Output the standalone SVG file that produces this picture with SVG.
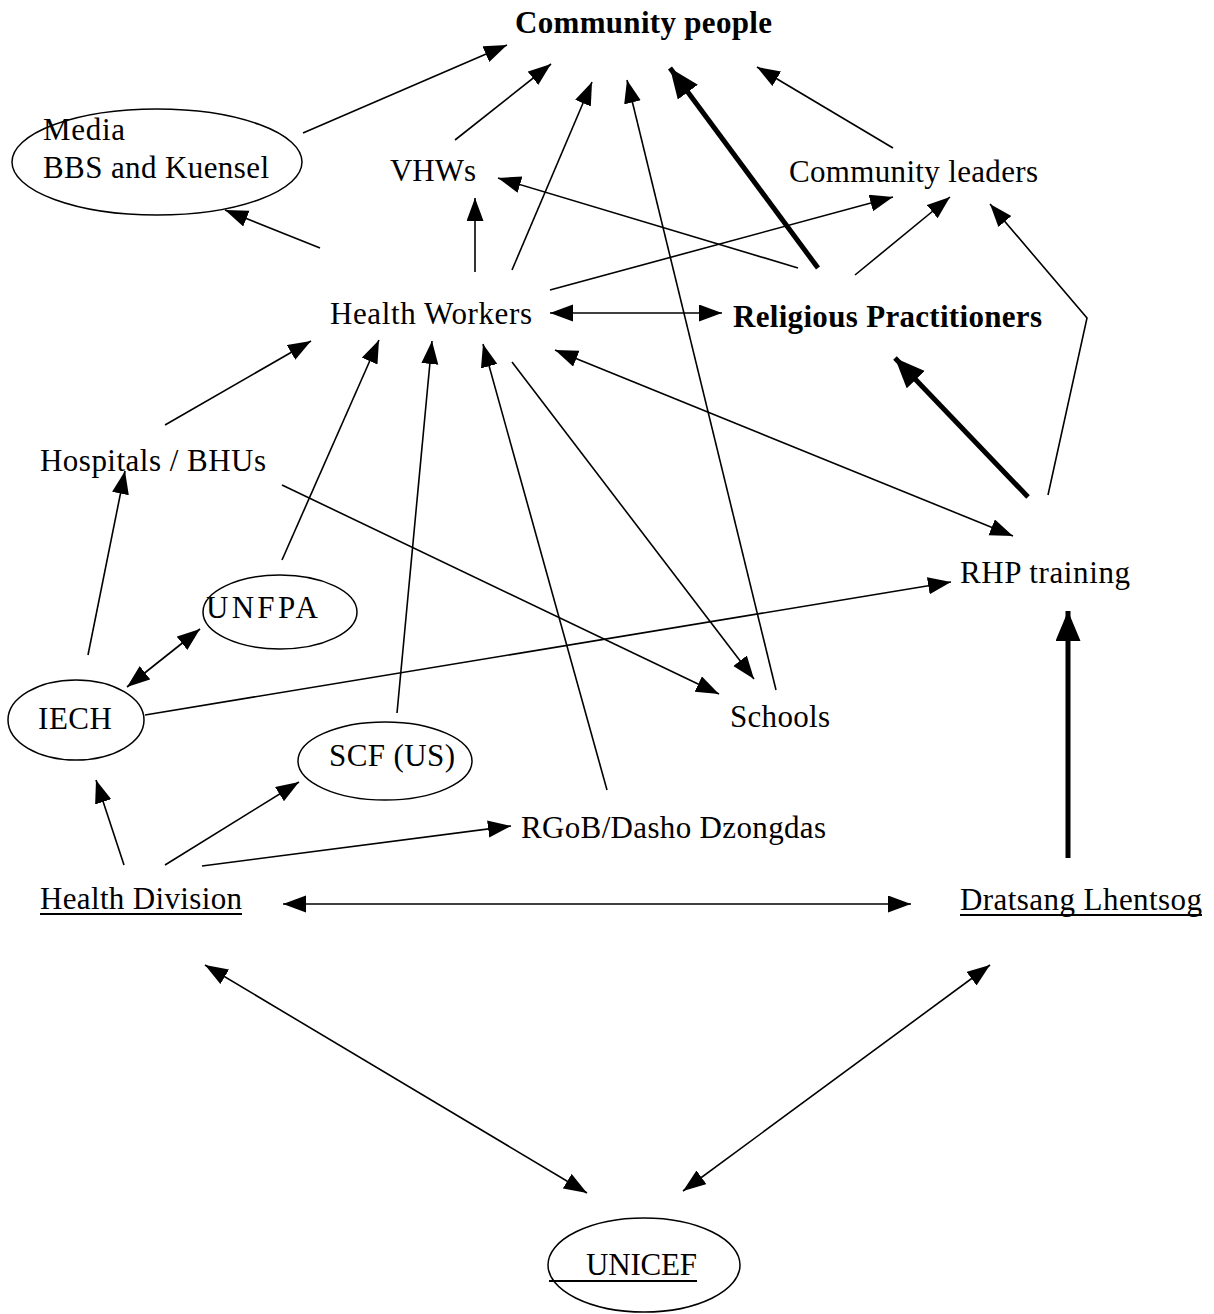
<svg xmlns="http://www.w3.org/2000/svg" width="1214" height="1314" viewBox="0 0 1214 1314">
<style>
text{font-family:"Liberation Serif","Times New Roman",serif;font-size:31px;fill:#000}
.b{font-weight:bold}
.sh{fill:none;stroke:#000;stroke-width:1.5}
.c line,.c polyline{fill:none;stroke:#000;stroke-width:1.6}
.c .t{stroke-width:5}
.ul{stroke:#000;stroke-width:2}
</style>
<defs>
<marker id="a" markerUnits="userSpaceOnUse" markerWidth="24" markerHeight="18" refX="23" refY="8.5" orient="auto-start-reverse"><path d="M0,0 L23,8.5 L0,17 z" fill="#000"/></marker>
<marker id="at" markerUnits="userSpaceOnUse" markerWidth="32" markerHeight="26" refX="30" refY="12.5" orient="auto"><path d="M0,0 L30,12.5 L0,25 z" fill="#000"/></marker>
</defs>
<rect width="1214" height="1314" fill="#fff"/>
<g class="c" id="connectors">
<line x1="303" y1="133" x2="507" y2="45" marker-end="url(#a)"/>
<line x1="455" y1="140" x2="551" y2="64" marker-end="url(#a)"/>
<line x1="512" y1="270" x2="592" y2="82" marker-end="url(#a)"/>
<line x1="776" y1="690" x2="627" y2="80" marker-end="url(#a)"/>
<line class="t" x1="818" y1="268" x2="670" y2="68" marker-end="url(#at)"/>
<line x1="893" y1="148" x2="757" y2="67" marker-end="url(#a)"/>
<line x1="475" y1="272" x2="475" y2="198" marker-end="url(#a)"/>
<line x1="320" y1="248" x2="225" y2="210" marker-end="url(#a)"/>
<line x1="798" y1="268" x2="498" y2="178" marker-end="url(#a)"/>
<line x1="550" y1="290" x2="893" y2="197" marker-end="url(#a)"/>
<line x1="855" y1="275" x2="950" y2="197" marker-end="url(#a)"/>
<polyline points="1048,495 1087,318 990,204" marker-end="url(#a)"/>
<line x1="550" y1="313" x2="722" y2="313" marker-start="url(#a)" marker-end="url(#a)"/>
<line x1="165" y1="425" x2="311" y2="341" marker-end="url(#a)"/>
<line x1="282" y1="560" x2="379" y2="340" marker-end="url(#a)"/>
<line x1="397" y1="713" x2="432" y2="341" marker-end="url(#a)"/>
<line x1="607" y1="790" x2="483" y2="344" marker-end="url(#a)"/>
<line x1="512" y1="362" x2="754" y2="679" marker-end="url(#a)"/>
<line x1="282" y1="485" x2="719" y2="694" marker-end="url(#a)"/>
<line x1="555" y1="350" x2="1013" y2="536" marker-start="url(#a)" marker-end="url(#a)"/>
<line class="t" x1="1028" y1="497" x2="895" y2="358" marker-end="url(#at)"/>
<line x1="88" y1="655" x2="125" y2="471" marker-end="url(#a)"/>
<line x1="127" y1="687" x2="200" y2="629" marker-start="url(#a)" marker-end="url(#a)"/>
<line x1="145" y1="715" x2="951" y2="582" marker-end="url(#a)"/>
<line x1="124" y1="865" x2="96" y2="780" marker-end="url(#a)"/>
<line x1="165" y1="865" x2="299" y2="782" marker-end="url(#a)"/>
<line x1="202" y1="866" x2="511" y2="826" marker-end="url(#a)"/>
<line x1="283" y1="904" x2="911" y2="904" marker-start="url(#a)" marker-end="url(#a)"/>
<line class="t" x1="1068" y1="858" x2="1068" y2="611" marker-end="url(#at)"/>
<line x1="205" y1="965" x2="587" y2="1193" marker-start="url(#a)" marker-end="url(#a)"/>
<line x1="990" y1="965" x2="683" y2="1191" marker-start="url(#a)" marker-end="url(#a)"/>
</g>
<g id="community-people"><text class="b" x="515" y="33" textLength="257">Community people</text></g>
<g id="media"><ellipse class="sh" cx="157" cy="162" rx="145" ry="53"/><text x="43" y="140" textLength="82">Media</text><text x="43" y="178" textLength="226">BBS and Kuensel</text></g>
<g id="vhws"><text x="390" y="181" textLength="86">VHWs</text></g>
<g id="community-leaders"><text x="789" y="182" textLength="249">Community leaders</text></g>
<g id="health-workers"><text x="330" y="324" textLength="202">Health Workers</text></g>
<g id="religious-practitioners"><text class="b" x="733" y="327" textLength="309">Religious Practitioners</text></g>
<g id="hospitals"><text x="40" y="471" textLength="226">Hospitals / BHUs</text></g>
<g id="unfpa"><ellipse class="sh" cx="280" cy="612" rx="77" ry="37"/><text x="206" y="618" textLength="112">UNFPA</text></g>
<g id="iech"><ellipse class="sh" cx="76" cy="720" rx="68" ry="40"/><text x="38" y="729" textLength="74">IECH</text></g>
<g id="scf"><ellipse class="sh" cx="385" cy="761" rx="87" ry="39"/><text x="329" y="766" textLength="126">SCF (US)</text></g>
<g id="schools"><text x="730" y="727" textLength="100">Schools</text></g>
<g id="rhp-training"><text x="960" y="583" textLength="170">RHP training</text></g>
<g id="rgob"><text x="521" y="838" textLength="305">RGoB/Dasho Dzongdas</text></g>
<g id="health-division"><text x="40" y="909" textLength="202">Health Division</text><line class="ul" x1="40" y1="914" x2="242" y2="914"/></g>
<g id="dratsang"><text x="960" y="910" textLength="242">Dratsang Lhentsog</text><line class="ul" x1="960" y1="915" x2="1202" y2="915"/></g>
<g id="unicef"><ellipse class="sh" cx="644" cy="1265" rx="96" ry="47"/><text x="586" y="1275" textLength="111">UNICEF</text><line class="ul" x1="549" y1="1281" x2="697" y2="1281"/></g>
</svg>
